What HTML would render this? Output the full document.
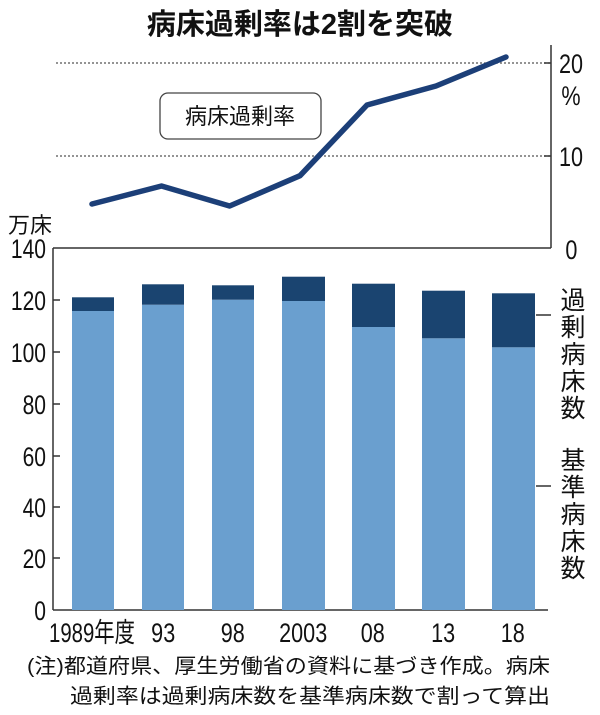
<!DOCTYPE html>
<html><head><meta charset="utf-8"><style>
html,body{margin:0;padding:0;background:#fff;}
svg{display:block;}
text{font-family:"Liberation Sans","Noto Sans CJK JP",sans-serif;fill:#111;}
</style></head><body>
<svg width="600" height="715" viewBox="0 0 600 715">
<text x="300" y="34" font-size="29" font-weight="bold" text-anchor="middle">病床過剰率は2割を突破</text>
<line x1="56" y1="63" x2="551" y2="63" stroke="#555" stroke-width="1.2" stroke-dasharray="2,2"/>
<line x1="56" y1="156" x2="551" y2="156" stroke="#555" stroke-width="1.2" stroke-dasharray="2,2"/>
<line x1="551" y1="45" x2="551" y2="248" stroke="#333" stroke-width="1.5"/>
<line x1="53" y1="248" x2="551" y2="248" stroke="#333" stroke-width="1.5"/>
<line x1="544" y1="63" x2="551" y2="63" stroke="#333" stroke-width="1.5"/>
<line x1="544" y1="156" x2="551" y2="156" stroke="#333" stroke-width="1.5"/>
<g font-size="27" transform="translate(559,0) scale(0.8,1)">
<text x="0" y="73">20</text><text x="3" y="105">%</text><text x="0" y="166">10</text><text x="8" y="259">0</text>
</g>
<rect x="160" y="93" width="161" height="46" rx="8" fill="#fff" stroke="#444" stroke-width="1.3"/>
<text x="240" y="124" font-size="22" text-anchor="middle">病床過剰率</text>
<polyline points="92,204 161.5,186 229.6,206 300,175.7 367,105 436,86 506,57" fill="none" stroke="#1c3f78" stroke-width="5.5" stroke-linejoin="round" stroke-linecap="round"/>
<text x="8" y="233" font-size="22">万床</text>
<line x1="53" y1="248" x2="53" y2="610" stroke="#333" stroke-width="1.5"/>
<line x1="53" y1="610" x2="548" y2="610" stroke="#333" stroke-width="1.5"/>
<g stroke="#333" stroke-width="1.5">
<line x1="53" y1="300" x2="60" y2="300"/><line x1="53" y1="352" x2="60" y2="352"/><line x1="53" y1="404" x2="60" y2="404"/>
<line x1="53" y1="456" x2="60" y2="456"/><line x1="53" y1="507" x2="60" y2="507"/><line x1="53" y1="558" x2="60" y2="558"/>
</g>
<g font-size="27" text-anchor="end" transform="scale(0.78,1)">
<text x="59" y="258">140</text><text x="59" y="310">120</text><text x="59" y="362">100</text><text x="59" y="414">80</text>
<text x="59" y="466">60</text><text x="59" y="517">40</text><text x="59" y="568">20</text><text x="59" y="620">0</text>
</g>
<g fill="#6a9fcf">
<rect x="72" y="311" width="42" height="299"/>
<rect x="142" y="304.7" width="42" height="305.3"/>
<rect x="212" y="299.7" width="42" height="310.3"/>
<rect x="282" y="301" width="43" height="309"/>
<rect x="352" y="327" width="43" height="283"/>
<rect x="422" y="338.3" width="43" height="271.7"/>
<rect x="492" y="347.3" width="43" height="262.7"/>
</g>
<g fill="#1a4470">
<rect x="72" y="297.3" width="42" height="13.7"/>
<rect x="142" y="284.3" width="42" height="20.4"/>
<rect x="212" y="285.3" width="42" height="14.4"/>
<rect x="282" y="276.7" width="43" height="24.3"/>
<rect x="352" y="283.7" width="43" height="43.3"/>
<rect x="422" y="290.7" width="43" height="47.6"/>
<rect x="492" y="293.3" width="43" height="54"/>
</g>
<line x1="536" y1="315" x2="551" y2="315" stroke="#333" stroke-width="1.5"/>
<line x1="536" y1="486" x2="551" y2="486" stroke="#333" stroke-width="1.5"/>
<g font-size="25" text-anchor="middle">
<text x="573" y="309">過</text><text x="573" y="336">剰</text><text x="573" y="363">病</text><text x="573" y="390">床</text><text x="573" y="417">数</text>
<text x="573" y="469">基</text><text x="573" y="496">準</text><text x="573" y="523">病</text><text x="573" y="550">床</text><text x="573" y="577">数</text>
</g>
<text x="49" y="642" font-size="27" textLength="86" lengthAdjust="spacingAndGlyphs">1989年度</text>
<g font-size="27" text-anchor="middle" transform="scale(0.8,1)">
<text x="204" y="642">93</text><text x="291" y="642">98</text><text x="379" y="642">2003</text>
<text x="466" y="642">08</text><text x="554" y="642">13</text><text x="641" y="642">18</text>
</g>
<text x="27" y="673" font-size="20.5" textLength="523" lengthAdjust="spacingAndGlyphs">(注)都道府県、厚生労働省の資料に基づき作成。病床</text>
<text x="70" y="703" font-size="20.5" textLength="480" lengthAdjust="spacingAndGlyphs">過剰率は過剰病床数を基準病床数で割って算出</text>
</svg>
</body></html>
